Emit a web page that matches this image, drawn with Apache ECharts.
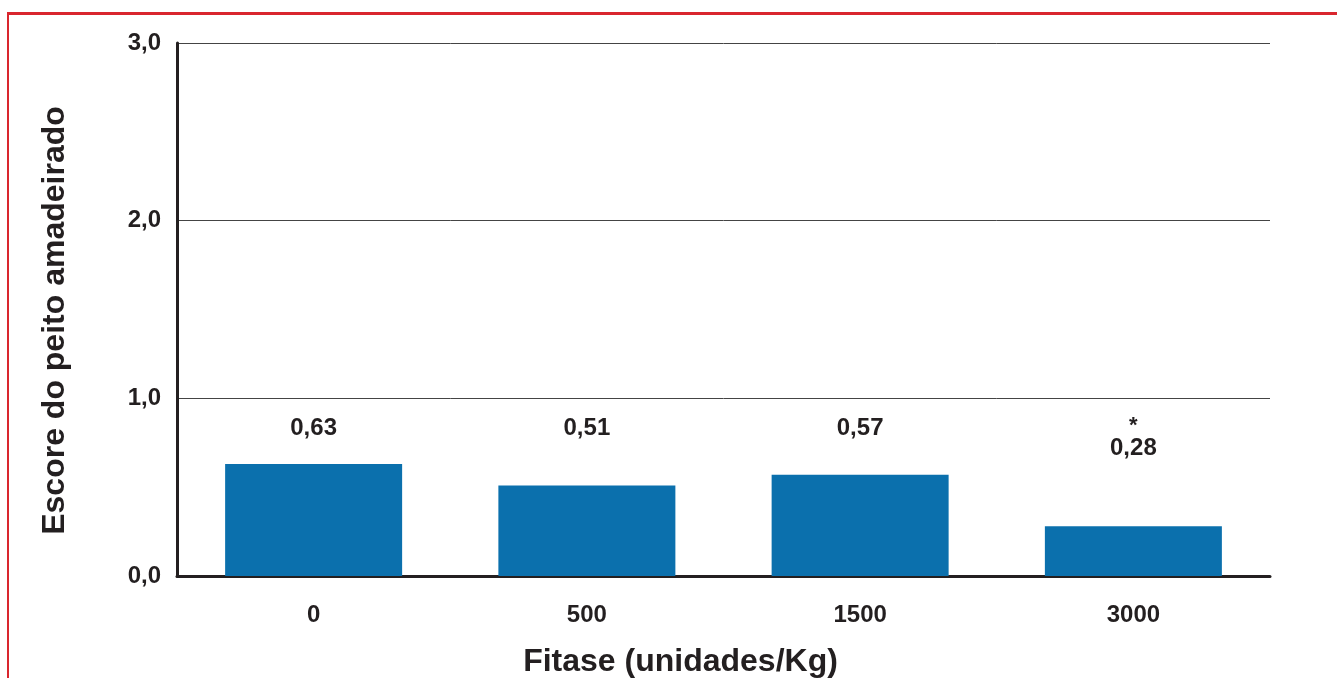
<!DOCTYPE html>
<html>
<head>
<meta charset="utf-8">
<script src="https://cdn.jsdelivr.net/npm/echarts@6/dist/echarts.min.js"></script>
<style>
  html, body { margin: 0; padding: 0; background: #ffffff; overflow: hidden; }
  #chart { width: 1337px; height: 678px; }
</style>
</head>
<body>
<div id="chart"></div>
<script>
// Phytase dose (units/kg) and the woody breast score measured for each dose
const doses = ['0', '500', '1500', '3000'];
const scores = [0.63, 0.51, 0.57, 0.28];
// significance marker shown above each value
const marks = ['', '', '', '*'];
// y-axis ticks
const yTicks = [0, 1, 2, 3];

// height (in score units) where the value labels sit
const LABEL_LEVEL = 0.83;

const INK = '#231f20';
const FONT = '"Liberation Sans", Arial, Helvetica, sans-serif';

const fmt = v => v.toFixed(2).replace('.', ',');

const chart = echarts.init(document.getElementById('chart'), null, { renderer: 'canvas' });

chart.setOption({
  animation: false,
  backgroundColor: '#ffffff',
  textStyle: { fontFamily: FONT },
  grid: {
    left: 177, top: 43, width: 1093, bottom: 102,
    containLabel: false, outerBoundsMode: 'none'
  },
  xAxis: {
    type: 'category',
    data: doses,
    name: 'Fitase (unidades/Kg)',
    nameLocation: 'middle',
    nameGap: 70,
    nameTextStyle: {
      fontFamily: FONT, fontWeight: 'bold', fontSize: 32, color: INK,
      padding: [0, 86, 0, 0]
    },
    axisLine: { show: true, lineStyle: { color: INK, width: 3 } },
    axisTick: { show: false },
    axisLabel: { margin: 27, fontFamily: FONT, fontWeight: 'bold', fontSize: 24, color: INK },
    splitLine: { show: false }
  },
  yAxis: {
    type: 'value',
    min: yTicks[0],
    max: yTicks[yTicks.length - 1],
    interval: 1,
    name: 'Escore do peito amadeirado',
    nameLocation: 'middle',
    nameGap: 106,
    nameRotate: 90,
    nameTextStyle: {
      fontFamily: FONT, fontWeight: 'bold', fontSize: 32, color: INK,
      padding: [0, 22, 0, 0]
    },
    axisLine: { show: true, lineStyle: { color: INK, width: 3 } },
    axisTick: { show: false },
    axisLabel: {
      margin: 16, fontFamily: FONT, fontWeight: 'bold', fontSize: 24, color: INK,
      formatter: v => v.toFixed(1).replace('.', ',')
    },
    splitLine: { show: true, lineStyle: { color: '#444444', width: 1 } }
  },
  series: [
    {
      type: 'bar',
      data: scores,
      barWidth: 177,
      itemStyle: { color: '#0b70ad' },
      silent: true
    },
    {
      // value labels, all on one level above the bars
      type: 'scatter',
      data: scores.map((s, i) => ({
        value: [doses[i], LABEL_LEVEL],
        label: { offset: [0, marks[i] ? 9 : 0] }
      })),
      symbolSize: 0,
      itemStyle: { opacity: 1 },
      silent: true,
      z: 5,
      label: {
        show: true,
        position: 'inside',
        formatter: p => {
          const i = p.dataIndex;
          const txt = '{v|' + fmt(scores[i]) + '}';
          return marks[i] ? '{m|' + marks[i] + '}\n' + txt : txt;
        },
        rich: {
          v: { fontFamily: FONT, fontWeight: 'bold', fontSize: 24, color: INK, lineHeight: 24 },
          m: { fontFamily: FONT, fontWeight: 'bold', fontSize: 22, color: INK, lineHeight: 22 }
        }
      }
    }
  ],
  graphic: [
    // red frame along the top and the left edge
    { type: 'line', shape: { x1: 7, y1: 13.5, x2: 1337, y2: 13.5 },
      style: { stroke: '#d9262e', lineWidth: 3 }, silent: true },
    { type: 'line', shape: { x1: 8, y1: 12, x2: 8, y2: 678 },
      style: { stroke: '#d9262e', lineWidth: 2 }, silent: true }
  ]
});
</script>
</body>
</html>
